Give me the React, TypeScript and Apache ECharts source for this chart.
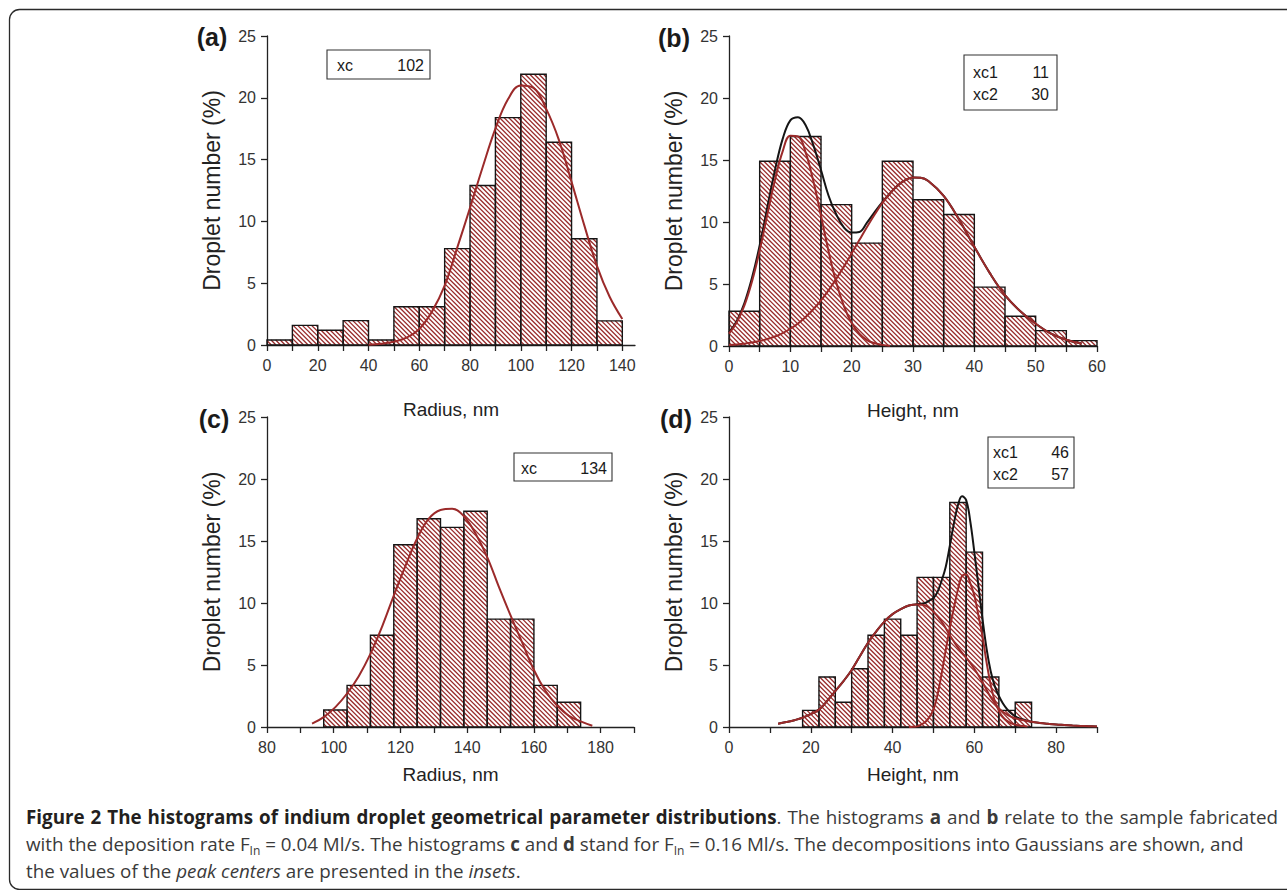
import React, { useEffect, useRef } from "react";
import * as echarts from "echarts";

// ---------- data ----------
const aBinStart = 0;
const aBinWidth = 10;
const aCounts = [0.4, 1.59, 1.19, 1.97, 0.4, 3.1, 3.1, 7.8, 12.9, 18.4, 21.9, 16.4, 8.6, 1.95];
const aFit: number[][] = [
  [40, 0.03], [45, 0.1], [50, 0.27], [55, 0.6], [60, 1.3], [65, 2.7], [70, 4.8], [75, 7.9],
  [80, 11.1], [85, 14.4], [90, 17.5], [95, 19.9], [100, 21.0], [105, 20.8], [110, 19.1],
  [115, 16.6], [120, 13.2], [125, 9.7], [130, 6.4], [135, 3.9], [140, 2.1],
];

const bBinStart = 0;
const bBinWidth = 5;
const bCounts = [2.8, 14.9, 16.9, 11.4, 8.3, 14.9, 11.8, 10.6, 4.75, 2.4, 1.24, 0.43];
const bFit1: number[][] = [
  [0, 1.0], [1.25, 1.9], [2.5, 3.25], [3.75, 5.2], [5, 7.7], [6.25, 10.6], [7.5, 13.4],
  [8.75, 15.7], [10, 16.95], [11.25, 16.9], [12.5, 15.6], [13.75, 13.3], [15, 10.5],
  [16.25, 7.6], [17.5, 5.1], [18.75, 3.2], [20, 1.85], [21.25, 1.0], [22.5, 0.48],
  [23.75, 0.22], [25, 0.09], [26.25, 0.03],
];
const bFit2: number[][] = [
  [0, 0.09], [1.25, 0.13], [2.5, 0.19], [3.75, 0.28], [5, 0.4], [6.25, 0.56], [7.5, 0.77],
  [8.75, 1.04], [10, 1.39], [11.25, 1.82], [12.5, 2.34], [13.75, 2.96], [15, 3.68],
  [16.25, 4.5], [17.5, 5.43], [18.75, 6.42], [20, 7.47], [21.25, 8.54], [22.5, 9.6],
  [23.75, 10.6], [25, 11.54], [26.25, 12.3], [27.5, 12.95], [28.75, 13.38], [30, 13.58],
  [31.25, 13.56], [32.5, 13.3], [35, 12.1], [37.5, 10.2], [40, 8.0], [42.5, 5.9],
  [45, 4.1], [47.5, 2.8], [50, 1.8], [52.5, 1.0], [55, 0.5], [57.5, 0.2],
];
const bFitSum: number[][] = [
  [0, 1.1], [1.25, 2.0], [2.5, 3.45], [3.75, 5.5], [5, 8.1], [6.25, 11.2], [7.5, 14.2],
  [8.75, 16.7], [10, 18.2], [11.25, 18.45], [12.5, 17.8], [13.75, 16.2], [15, 14.2],
  [16.25, 12.1], [17.5, 10.6], [18.75, 9.55], [20, 9.15], [21.25, 9.2], [22.5, 9.95],
  [23.75, 10.8], [25, 11.6], [26.25, 12.3], [27.5, 12.95], [28.75, 13.38], [30, 13.58],
  [31.25, 13.56], [32.5, 13.3], [35, 12.1], [37.5, 10.2], [40, 8.0], [42.5, 5.9],
  [45, 4.1], [47.5, 2.8], [50, 1.8], [52.5, 1.0], [55, 0.5], [57.5, 0.2],
];

const cBinStart = 97;
const cBinWidth = 7;
const cCounts = [1.37, 3.36, 7.4, 14.7, 16.8, 16.1, 17.4, 8.7, 8.7, 3.36, 2.0];
const cFit: number[][] = [
  [93.5, 0.27], [97, 0.8], [100.5, 1.6], [104, 2.7], [107.5, 4.1], [111, 5.9], [114.5, 8.1],
  [118, 10.6], [121.5, 13.0], [125, 15.2], [128.5, 16.8], [132, 17.5], [135.5, 17.6],
  [139, 17.0], [142.5, 15.6], [146, 13.7], [149.5, 11.3], [153, 9.0], [156.5, 6.8],
  [160, 4.6], [163.5, 2.9], [167, 1.7], [170.5, 0.9], [174, 0.45], [177.5, 0.1],
];

const dBinStart = 18;
const dBinWidth = 4;
const dCounts = [1.34, 4.03, 2.0, 4.7, 7.4, 8.7, 7.4, 12.07, 12.07, 18.1, 14.1, 4.03, 1.34, 2.0];
const dFit1: number[][] = [
  [12, 0.27], [14, 0.4], [16, 0.55], [18, 0.75], [20, 1.05], [22, 1.4], [24, 2.1], [26, 2.9],
  [28, 3.7], [30, 4.6], [32, 5.7], [34, 6.8], [36, 7.7], [38, 8.5], [40, 9.1], [42, 9.5],
  [44, 9.8], [46, 9.87], [48, 9.8], [50, 9.3], [52, 8.5], [54, 7.4], [56, 6.4], [58, 5.6],
  [60, 4.7], [62, 3.6], [64, 2.4], [66, 1.5], [68, 1.0], [70, 0.7], [72, 0.55], [74, 0.42],
  [76, 0.33], [78, 0.26], [80, 0.2], [82, 0.16], [84, 0.12], [86, 0.09], [88, 0.07], [90, 0.05],
];
const dFit2: number[][] = [
  [44, 0], [45, 0.02], [46, 0.05], [47, 0.2], [48, 0.4], [49, 0.8], [50, 1.4], [51, 2.6],
  [52, 4.3], [53, 6.2], [54, 8.0], [55, 9.6], [56, 11.1], [57, 12.2], [58, 12.3], [59, 11.6],
  [60, 10.6], [61, 9.0], [62, 7.3], [63, 5.2], [64, 3.4], [65, 2.1], [66, 1.3], [67, 0.8],
  [68, 0.5], [69, 0.3], [70, 0.2], [71, 0.12], [72, 0.08], [73, 0.05],
];
const dFitSum: number[][] = [
  [12, 0.27], [14, 0.4], [16, 0.55], [18, 0.75], [20, 1.05], [22, 1.4], [24, 2.1], [26, 2.9],
  [28, 3.7], [30, 4.6], [32, 5.7], [34, 6.8], [36, 7.7], [38, 8.5], [40, 9.1], [42, 9.5],
  [44, 9.8], [45, 9.85], [46, 9.9], [47, 9.95], [48, 10.0], [49, 10.2], [50, 10.4], [51, 10.9],
  [52, 11.8], [53, 12.9], [54, 14.6], [55, 16.4], [56, 17.9], [57, 18.6], [58, 18.3],
  [59, 16.6], [60, 14.1], [61, 11.4], [62, 8.7], [63, 6.3], [64, 4.5], [65, 3.3], [66, 2.5],
  [67, 1.9], [68, 1.45], [69, 1.1], [70, 0.85], [71, 0.7], [72, 0.6], [73, 0.5], [74, 0.42],
  [76, 0.33], [78, 0.26], [80, 0.2], [82, 0.16], [84, 0.12], [86, 0.09], [88, 0.07], [90, 0.05],
];

// axis ticks / labels
const aTicks = [0, 10, 20, 30, 40, 50, 60, 70, 80, 90, 100, 110, 120, 130, 140];
const aLabels = [0, 20, 40, 60, 80, 100, 120, 140];
const bTicks = [0, 5, 10, 15, 20, 25, 30, 35, 40, 45, 50, 55, 60];
const bLabels = [0, 10, 20, 30, 40, 50, 60];
const cTicks = [80, 90, 100, 110, 120, 130, 140, 150, 160, 170, 180, 190];
const cLabels = [80, 100, 120, 140, 160, 180];
const dTicks = [0, 10, 20, 30, 40, 50, 60, 70, 80, 90];
const dLabels = [0, 20, 40, 60, 80];
const yTicks = [0, 5, 10, 15, 20, 25];

const panelLetters = ["(a)", "(b)", "(c)", "(d)"];
const xTitles = ["Radius, nm", "Height, nm", "Radius, nm", "Height, nm"];
const yTitle = "Droplet number (%)";
const insetA = [["xc", "102"]];
const insetB = [["xc1", "11"], ["xc2", "30"]];
const insetC = [["xc", "134"]];
const insetD = [["xc1", "46"], ["xc2", "57"]];

// ---------- styles ----------
const RED = "#9b2a2a";
const HATCH = "#982a2a";
const HATCH_STEP = 4.6;
const HATCH_WIDTH = 1.3;
const BLACK = "#151515";
const AXIS = "#222";
const FONT = '"Liberation Sans", Arial, Helvetica, sans-serif';

function bins(start: number, width: number, counts: number[]) {
  return counts.map((v, i) => [start + i * width, start + (i + 1) * width, v]);
}

function histSeries(idx: number, data: number[][]) {
  return {
    type: "custom",
    xAxisIndex: idx,
    yAxisIndex: idx,
    encode: { x: [0, 1], y: 2 },
    data,
    z: 2,
    renderItem: (params: any, api: any) => {
      const tl = api.coord([api.value(0), api.value(2)]);
      const br = api.coord([api.value(1), 0]);
      const x0 = tl[0], y0 = tl[1], x1 = br[0], y1 = br[1];
      const children: any[] = [];
      // diagonal hatch "\" : lines y = x + k
      const kStart = Math.ceil((y0 - x1) / HATCH_STEP);
      const kEnd = Math.floor((y1 - x0) / HATCH_STEP);
      for (let n = kStart; n <= kEnd; n++) {
        const k = n * HATCH_STEP;
        const xs = Math.max(x0, y0 - k);
        const xe = Math.min(x1, y1 - k);
        if (xe - xs > 0.2) {
          children.push({
            type: "line",
            shape: { x1: xs, y1: xs + k, x2: xe, y2: xe + k },
            style: { stroke: HATCH, lineWidth: HATCH_WIDTH },
            silent: true,
          });
        }
      }
      children.push({
        type: "rect",
        shape: { x: x0, y: y0, width: x1 - x0, height: y1 - y0 },
        style: { fill: "none", stroke: BLACK, lineWidth: 1.4 },
      });
      return { type: "group", children };
    },
  };
}

function lineSeries(idx: number, data: number[][], color: string, z: number) {
  return {
    type: "line",
    xAxisIndex: idx,
    yAxisIndex: idx,
    data,
    smooth: 0.4,
    showSymbol: false,
    symbol: "none",
    z,
    lineStyle: { color, width: 2 },
  };
}

function xAxis(idx: number, min: number, max: number, ticks: number[], labels: number[], name: string, nameGap: number) {
  return {
    type: "value",
    gridIndex: idx,
    min,
    max,
    interval: 10,
    name,
    nameLocation: "middle",
    nameGap,
    nameTextStyle: { fontFamily: FONT, fontSize: 19, color: "#222" },
    axisLine: { show: true, onZero: false, lineStyle: { color: AXIS, width: 1.3 } },
    axisTick: { show: true, length: 6, customValues: ticks, lineStyle: { color: AXIS, width: 1.3 } },
    axisLabel: { fontFamily: FONT, fontSize: 16, color: "#333", margin: 12, customValues: labels },
    splitLine: { show: false },
  };
}

function yAxis(idx: number) {
  return {
    type: "value",
    gridIndex: idx,
    min: 0,
    max: 25,
    interval: 5,
    name: yTitle,
    nameLocation: "middle",
    nameGap: 44,
    nameTextStyle: { fontFamily: FONT, fontSize: 23, color: "#222" },
    axisLine: { show: true, lineStyle: { color: AXIS, width: 1.3 } },
    axisTick: { show: true, length: 6, customValues: yTicks, lineStyle: { color: AXIS, width: 1.3 } },
    axisLabel: { fontFamily: FONT, fontSize: 16, color: "#333", margin: 11, customValues: yTicks },
    splitLine: { show: false },
  };
}

function txt(x: number, y: number, text: string, size: number, align: string, bold = false) {
  return {
    type: "text",
    x,
    y,
    z: 20,
    style: {
      text,
      font: (bold ? "bold " : "") + size + "px " + FONT,
      fill: "#1a1a1a",
      align,
      verticalAlign: "middle",
      textAlign: align,
      textVerticalAlign: "middle",
    },
  };
}

function inset(x: number, y: number, w: number, h: number, rows: string[][], rowY: number[], lx: number, rx: number) {
  const els: any[] = [
    {
      type: "rect",
      z: 19,
      shape: { x, y, width: w, height: h },
      style: { fill: "#fff", stroke: "#333", lineWidth: 1.1 },
    },
  ];
  rows.forEach((r, i) => {
    els.push(txt(lx, rowY[i], r[0], 16, "left"));
    els.push(txt(rx, rowY[i], r[1], 16, "right"));
  });
  return els;
}

export default function App() {
  const ref = useRef<HTMLDivElement>(null);

  useEffect(() => {
    if (!ref.current) return;
    const chart = echarts.init(ref.current, null, { renderer: "svg" });
    const option: any = {
      animation: false,
      backgroundColor: "#ffffff",
      grid: [
        { left: 267, top: 36, width: 368, height: 309 },
        { left: 729, top: 36, width: 368, height: 310 },
        { left: 267, top: 417, width: 367, height: 310 },
        { left: 729, top: 417, width: 368, height: 310 },
      ],
      xAxis: [
        xAxis(0, 0, 145, aTicks, aLabels, xTitles[0], 55),
        xAxis(1, 0, 60, bTicks, bLabels, xTitles[1], 55),
        xAxis(2, 80, 190, cTicks, cLabels, xTitles[2], 38),
        xAxis(3, 0, 90, dTicks, dLabels, xTitles[3], 38),
      ],
      yAxis: [yAxis(0), yAxis(1), yAxis(2), yAxis(3)],
      series: [
        histSeries(0, bins(aBinStart, aBinWidth, aCounts)),
        lineSeries(0, aFit, RED, 5),
        histSeries(1, bins(bBinStart, bBinWidth, bCounts)),
        lineSeries(1, bFitSum, BLACK, 4),
        lineSeries(1, bFit1, RED, 5),
        lineSeries(1, bFit2, RED, 5),
        histSeries(2, bins(cBinStart, cBinWidth, cCounts)),
        lineSeries(2, cFit, RED, 5),
        histSeries(3, bins(dBinStart, dBinWidth, dCounts)),
        lineSeries(3, dFitSum, BLACK, 4),
        lineSeries(3, dFit1, RED, 5),
        lineSeries(3, dFit2, RED, 5),
      ],
      graphic: [
        {
          type: "rect",
          z: 0,
          shape: { x: 9.5, y: 9.5, width: 1300, height: 880, r: 10 },
          style: { fill: "none", stroke: "#2a2a2a", lineWidth: 1.3 },
        },
        txt(212, 37, panelLetters[0], 25, "center", true),
        txt(674, 38, panelLetters[1], 25, "center", true),
        txt(214, 419, panelLetters[2], 25, "center", true),
        txt(676, 419, panelLetters[3], 25, "center", true),
        ...inset(327, 50, 103, 29, insetA, [65], 337, 424),
        ...inset(964, 55, 93, 55, insetB, [72, 94], 973, 1049),
        ...inset(514, 453, 98, 28, insetC, [468], 521, 607),
        ...inset(988, 437, 86, 51, insetD, [452, 474], 993, 1069),
      ],
    };
    chart.setOption(option);
    return () => chart.dispose();
  }, []);

  const capStyle: React.CSSProperties = {
    position: "absolute",
    left: 26,
    top: 804,
    width: 1252,
    fontFamily: '"Open Sans", "Noto Sans", sans-serif',
    fontSize: 18.8,
    lineHeight: "27px",
    color: "#3a3a3a",
    whiteSpace: "nowrap",
  };
  const sub: React.CSSProperties = { fontSize: 12, verticalAlign: "-4px", lineHeight: 0 };

  return (
    <div style={{ position: "absolute", left: 0, top: 0, width: 1287, height: 890, background: "#fff" }}>
      <div ref={ref} style={{ position: "absolute", left: 0, top: 0, width: 1287, height: 890 }} />
      <div style={capStyle}>
        <div style={{ textAlign: "justify", textAlignLast: "justify", whiteSpace: "normal" }}>
          <b style={{ color: "#231f20" }}>Figure 2 The histograms of indium droplet geometrical parameter distributions</b>. The histograms <b>a</b> and <b>b</b> relate to the sample fabricated
        </div>
        <div>
          with the deposition rate F<span style={sub}>In</span> = 0.04 Ml/s. The histograms <b>c</b> and <b>d</b> stand for F<span style={sub}>In</span> = 0.16 Ml/s. The decompositions into Gaussians are shown, and
        </div>
        <div>
          the values of the <i>peak centers</i> are presented in the <i>insets</i>.
        </div>
      </div>
    </div>
  );
}
